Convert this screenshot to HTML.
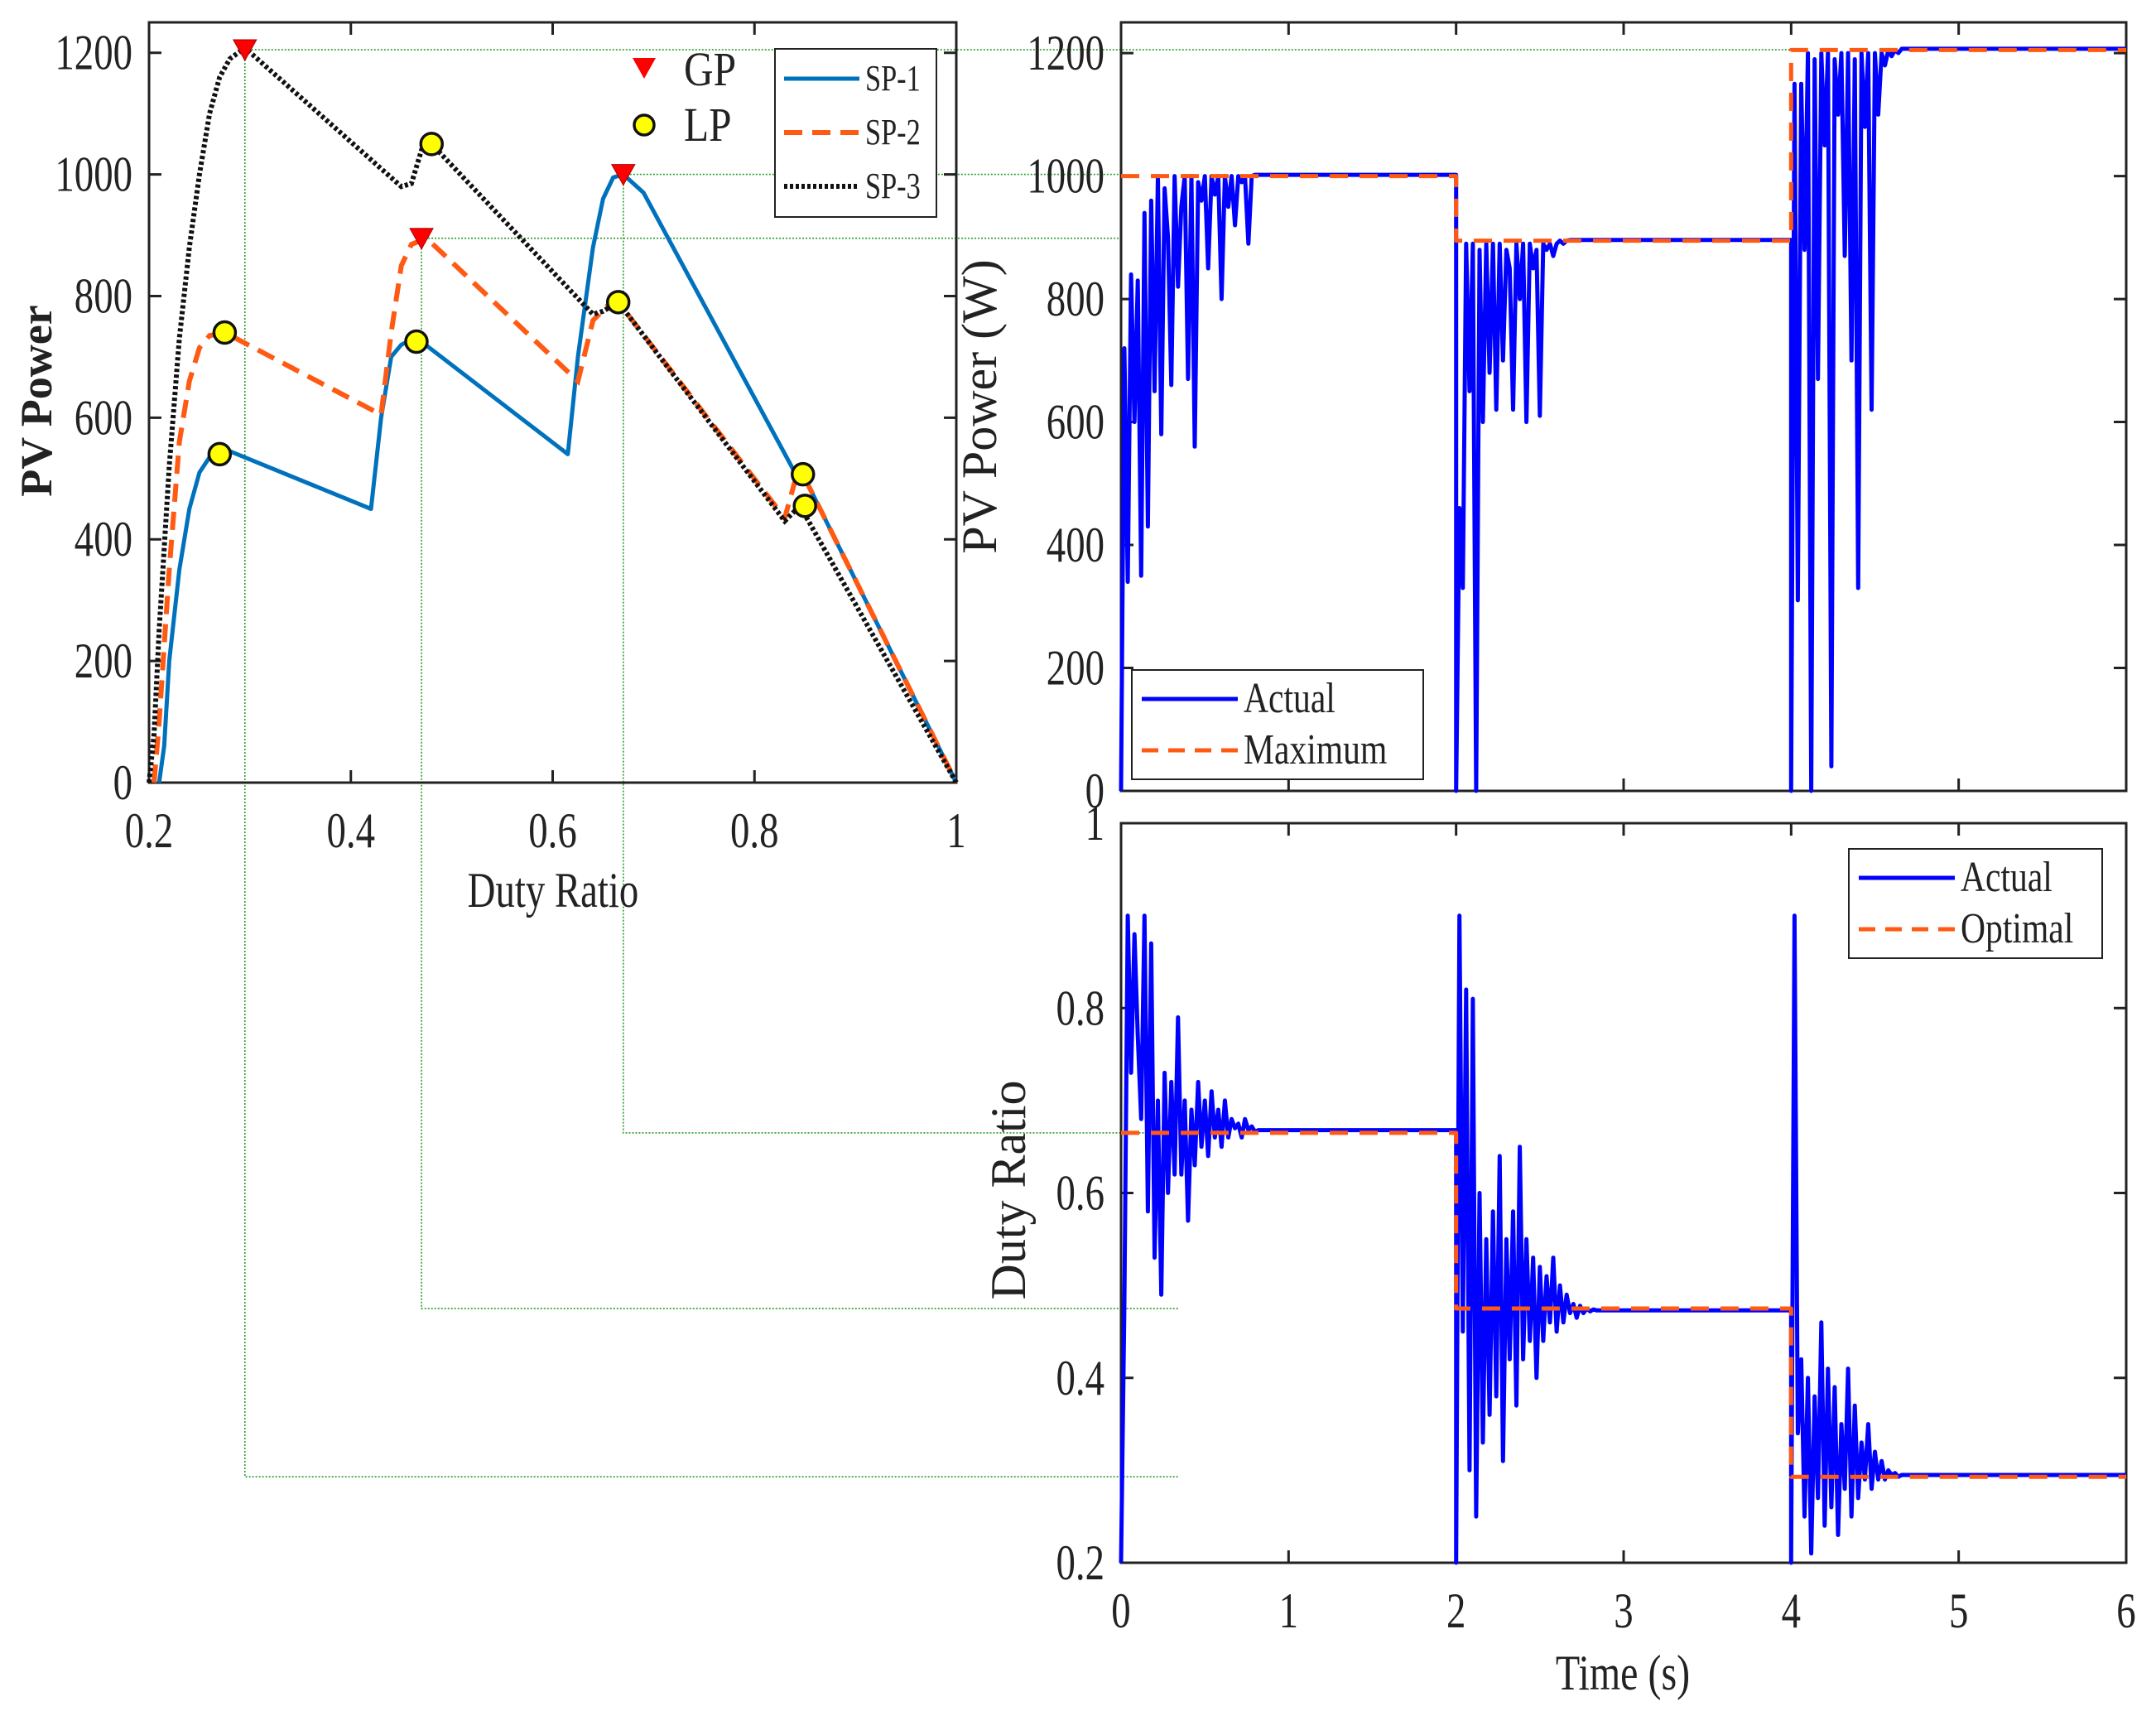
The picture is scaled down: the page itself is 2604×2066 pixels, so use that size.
<!DOCTYPE html>
<html><head><meta charset="utf-8"><style>
html,body{margin:0;padding:0;background:#fff}
svg{display:block}
text{font-family:"Liberation Serif",serif;fill:#222}
</style></head><body>
<svg id="c" width="2604" height="2066" viewBox="0 0 2604 2066"></svg>
<script>
// ---- Left chart data (P-D curves) ----
const sp1D=[0.21,0.215,0.22,0.23,0.24,0.25,0.26,0.27,0.28,0.42,0.43,0.44,0.45,0.46,0.47,0.615,0.625,0.64,0.65,0.66,0.67,0.69,0.84,0.85,1.0];
const sp1P=[0,60,200,350,450,510,535,545,545,450,600,700,720,728,725,540,700,880,960,995,1000,970,510,500,0];
const sp2D=[0.205,0.21,0.22,0.23,0.24,0.25,0.26,0.275,0.43,0.44,0.45,0.46,0.475,0.625,0.64,0.655,0.665,0.83,0.84,0.848,1.0];
const sp2P=[0,100,350,560,660,715,735,740,605,740,850,885,895,660,760,785,790,435,495,507,0];
const sp3D=[0.2,0.205,0.21,0.22,0.23,0.24,0.25,0.26,0.27,0.28,0.295,0.45,0.46,0.47,0.48,0.64,0.65,0.665,0.83,0.845,1.0];
const sp3P=[0,80,250,520,730,880,1000,1100,1160,1190,1208,980,985,1040,1050,770,775,790,430,455,0];
const gpD=[0.295,0.47,0.67];
const gpP=[1205,895,1000];
const lpD=[0.27,0.275,0.465,0.48,0.665,0.848,0.85];
const lpP=[540,740,725,1050,790,507,455];
const leftXTicks=[0.2,0.4,0.6,0.8,1];
const leftXTickLabels=["0.2","0.4","0.6","0.8","1"];
const leftYTicks=[0,200,400,600,800,1000,1200];
const leftYTickLabels=["0","200","400","600","800","1000","1200"];
// ---- Right charts data ----
const dt=0.02;
const powSeg1=[0,720,340,840,600,830,350,940,430,960,650,1000,580,980,900,660,1000,820,950,1000,670,1000,560,990,960,1000,850,1000,970,1000,800,1000,950,1000,920,1000,990,1000,890,1000,1002];
const powSeg2=[0,460,330,890,650,890,0,880,600,890,680,890,620,890,700,880,850,620,890,800,890,600,890,850,880,610,890,880,890,870,890,895,890,895,896];
const powSeg3=[0,1150,310,1150,880,1200,0,1190,670,1200,1050,1200,40,1190,1100,1200,870,1200,700,1190,330,1200,1080,1200,620,1200,1100,1200,1180,1205,1195,1205,1200,1207];
const powMax=[1000,895,1205];
const dutySeg1=[0.2,0.48,0.9,0.73,0.88,0.77,0.68,0.9,0.58,0.87,0.53,0.7,0.49,0.73,0.6,0.72,0.62,0.79,0.62,0.7,0.57,0.69,0.63,0.72,0.65,0.7,0.64,0.71,0.66,0.69,0.65,0.7,0.66,0.68,0.67,0.675,0.66,0.68,0.668,0.672,0.666,0.668];
const dutySeg2=[0.2,0.9,0.45,0.82,0.3,0.81,0.25,0.6,0.33,0.55,0.36,0.58,0.38,0.64,0.31,0.55,0.42,0.58,0.37,0.65,0.42,0.55,0.44,0.53,0.4,0.52,0.44,0.51,0.46,0.53,0.45,0.5,0.46,0.49,0.47,0.48,0.465,0.478,0.47,0.475,0.472,0.474,0.473];
const dutySeg3=[0.2,0.9,0.34,0.42,0.25,0.4,0.21,0.38,0.27,0.46,0.24,0.41,0.26,0.39,0.23,0.35,0.28,0.41,0.25,0.37,0.27,0.33,0.29,0.35,0.28,0.32,0.29,0.31,0.29,0.3,0.295,0.297,0.293,0.295];
const dutyOpt=[0.665,0.475,0.293];
const segStarts=[0,2,4];
const timeTicks=[0,1,2,3,4,5,6];
const timeTickLabels=["0","1","2","3","4","5","6"];
const powTicks=[0,200,400,600,800,1000,1200];
const powTickLabels=["0","200","400","600","800","1000","1200"];
const dutyTicks=[0.2,0.4,0.6,0.8,1];
const dutyTickLabels=["0.2","0.4","0.6","0.8","1"];

const svg=document.getElementById('c');
const NS='http://www.w3.org/2000/svg';
function mk(tag,attrs,parent){const e=document.createElementNS(NS,tag);for(const k in attrs)e.setAttribute(k,attrs[k]);(parent||svg).appendChild(e);return e;}
function txt(s,x,y,size,anchor,sx,parent,rot){
  const t=mk('text',{'font-size':size,'text-anchor':anchor||'middle','transform':`translate(${x},${y})${rot?' rotate('+rot+')':''} scale(${sx||0.78},1)`},parent);
  t.textContent=s;return t;}
const L={x0:180,x1:1155,y0:945,y1:27,xmin:0.2,xmax:1,ymin:0,ymax:1250};
const RT={x0:1354,x1:2568,y0:955,y1:27,xmin:0,xmax:6,ymin:0,ymax:1250};
const RB={x0:1354,x1:2568,y0:1887,y1:994,xmin:0,xmax:6,ymin:0.2,ymax:1};
function sx(a,v){return a.x0+(v-a.xmin)/(a.xmax-a.xmin)*(a.x1-a.x0);}
function sy(a,v){return a.y0-(v-a.ymin)/(a.ymax-a.ymin)*(a.y0-a.y1);}
function pathXY(a,xs,ys){return xs.map((x,i)=>(i?'L':'M')+sx(a,x).toFixed(1)+' '+sy(a,ys[i]).toFixed(1)).join(' ');}
function segSeries(starts,segs){
  const T=[],V=[];
  segs.forEach((s,k)=>{s.forEach((v,i)=>{T.push(starts[k]+i*dt);V.push(v);});
    const end=k<segs.length-1?starts[k+1]:6;T.push(end);V.push(s[s.length-1]);});
  return [T,V];}
function stepSeries(starts,vals){const T=[],V=[];vals.forEach((v,k)=>{T.push(starts[k]);V.push(v);T.push(k<vals.length-1?starts[k+1]:6);V.push(v);});return [T,V];}

const g=mk('g',{stroke:'#2a9a2a','stroke-width':1.6,'stroke-dasharray':'2 2',fill:'none'});


mk('path',{d:`M${sx(L,gpD[0])} ${sy(L,gpP[0])} H2170 M${sx(L,gpD[2])} ${sy(L,gpP[2])} H${RT.x0} M${sx(L,gpD[1])} ${sy(L,gpP[1])} H${RT.x0}`},g);
mk('path',{d:`M${sx(L,gpD[0])} ${sy(L,gpP[0])} V${sy(RB,dutyOpt[2])} H${RB.x0+70}`},g);
mk('path',{d:`M${sx(L,gpD[1])} ${sy(L,gpP[1])} V${sy(RB,dutyOpt[1])} H${RB.x0+70}`},g);
mk('path',{d:`M${sx(L,gpD[2])} ${sy(L,gpP[2])} V${sy(RB,dutyOpt[0])} H${RB.x0+70}`},g);

function axesBox(a,name,xt,xl,yt,yl,showX){
  const grp=mk('g',{});
  
  
  mk('rect',{x:a.x0,y:a.y1,width:a.x1-a.x0,height:a.y0-a.y1,fill:'none',stroke:'#222','stroke-width':3},grp);
  xt.forEach((v,i)=>{const x=sx(a,v);mk('path',{d:`M${x} ${a.y0}v-15M${x} ${a.y1}v15`,stroke:'#222','stroke-width':3},grp);
    if(showX)txt(xl[i],x,a.y0+78,60,'middle',0.78,grp);});
  yt.forEach((v,i)=>{const y=sy(a,v);mk('path',{d:`M${a.x0} ${y}h15M${a.x1} ${y}h-15`,stroke:'#222','stroke-width':3},grp);
    txt(yl[i],a.x0-20,y+20,60,'end',0.78,grp);});
  return grp;}
axesBox(L,'left-axes',leftXTicks,leftXTickLabels,leftYTicks,leftYTickLabels,true);
axesBox(RT,'power-axes',timeTicks,timeTickLabels,powTicks,powTickLabels,false);
axesBox(RB,'duty-axes',timeTicks,timeTickLabels,dutyTicks,dutyTickLabels,true);

let p=mk('path',{d:pathXY(L,sp1D,sp1P),stroke:'#0072BD','stroke-width':5,fill:'none','stroke-linejoin':'round'});

p=mk('path',{d:pathXY(L,sp2D,sp2P),stroke:'#FF5A14','stroke-width':6,fill:'none','stroke-dasharray':'22 12'});

p=mk('path',{d:pathXY(L,sp3D,sp3P),stroke:'#111','stroke-width':6,fill:'none','stroke-dasharray':'4 3'});

gpD.forEach((d,i)=>{const x=sx(L,d),y=sy(L,gpP[i]);
  const m=mk('path',{d:`M${x-14} ${y-12}L${x+14} ${y-12}L${x} ${y+13}Z`,fill:'#f00',stroke:'#a00','stroke-width':1});
  });
lpD.forEach((d,i)=>{const m=mk('circle',{cx:sx(L,d),cy:sy(L,lpP[i]),r:13,fill:'#ff0',stroke:'#111','stroke-width':3.5});
  });

let lg=mk('g',{});
mk('path',{d:'M764 70L792 70L778 95Z',fill:'#f00'},lg);
txt('GP',826,103,58,'start',0.85,lg);
mk('circle',{cx:778,cy:151,r:12,fill:'#ff0',stroke:'#111','stroke-width':3.5},lg);
txt('LP',826,170,58,'start',0.85,lg);
lg=mk('g',{});
mk('rect',{x:936,y:59,width:195,height:203,fill:'#fff',stroke:'#222','stroke-width':2},lg);
[['SP-1','#0072BD','none',5],['SP-2','#FF5A14','22 12',6],['SP-3','#111','4 3',6]].forEach((e,i)=>{
  const y=95+i*65;mk('path',{d:`M947 ${y}H1038`,stroke:e[1],'stroke-width':e[3],'stroke-dasharray':e[2]},lg);
  txt(e[0],1045,y+14,44,'start',0.78,lg);});

function drawSeries(a,TV,color,w,dash,name){const e=mk('path',{d:pathXY(a,TV[0],TV[1]),stroke:color,'stroke-width':w,fill:'none','stroke-dasharray':dash||'none','stroke-linejoin':'round'});
  }
drawSeries(RT,segSeries(segStarts,[powSeg1,powSeg2,powSeg3]),'#0000FF',5,null,'actual-power-line');
drawSeries(RT,stepSeries(segStarts,powMax),'#FF5A14',5,'22 14','maximum-power-line');
drawSeries(RB,segSeries(segStarts,[dutySeg1,dutySeg2,dutySeg3]),'#0000FF',5,null,'actual-duty-line');
drawSeries(RB,stepSeries(segStarts,dutyOpt),'#FF5A14',5,'22 14','optimal-duty-line');

function boxLegend(name,x,y,w,h,entries){const lg=mk('g',{});
  mk('rect',{x,y,width:w,height:h,fill:'#fff',stroke:'#222','stroke-width':2},lg);
  entries.forEach((e,i)=>{const yy=y+35+i*62;mk('path',{d:`M${x+12} ${yy}H${x+128}`,stroke:e[1],'stroke-width':5,'stroke-dasharray':e[2]},lg);
    txt(e[0],x+135,yy+16,52,'start',0.8,lg);});}
boxLegend('power-legend',1367,809,352,132,[['Actual','#0000FF','none'],['Maximum','#FF5A14','20 12']]);
boxLegend('duty-legend',2233,1025,306,132,[['Actual','#0000FF','none'],['Optimal','#FF5A14','20 12']]);

let t=txt('PV Power',62,484,54,'middle',1,null,-90);t.setAttribute('font-weight','bold');

t=txt('Duty Ratio',668,1095,60,'middle',0.78);
t=txt('PV Power (W)',1203,491,60,'middle',1,null,-90);
t=txt('Duty Ratio',1238,1437,60,'middle',1,null,-90);
t=txt('Time (s)',1960,2040,60,'middle',0.8);
</script>
</body></html>
